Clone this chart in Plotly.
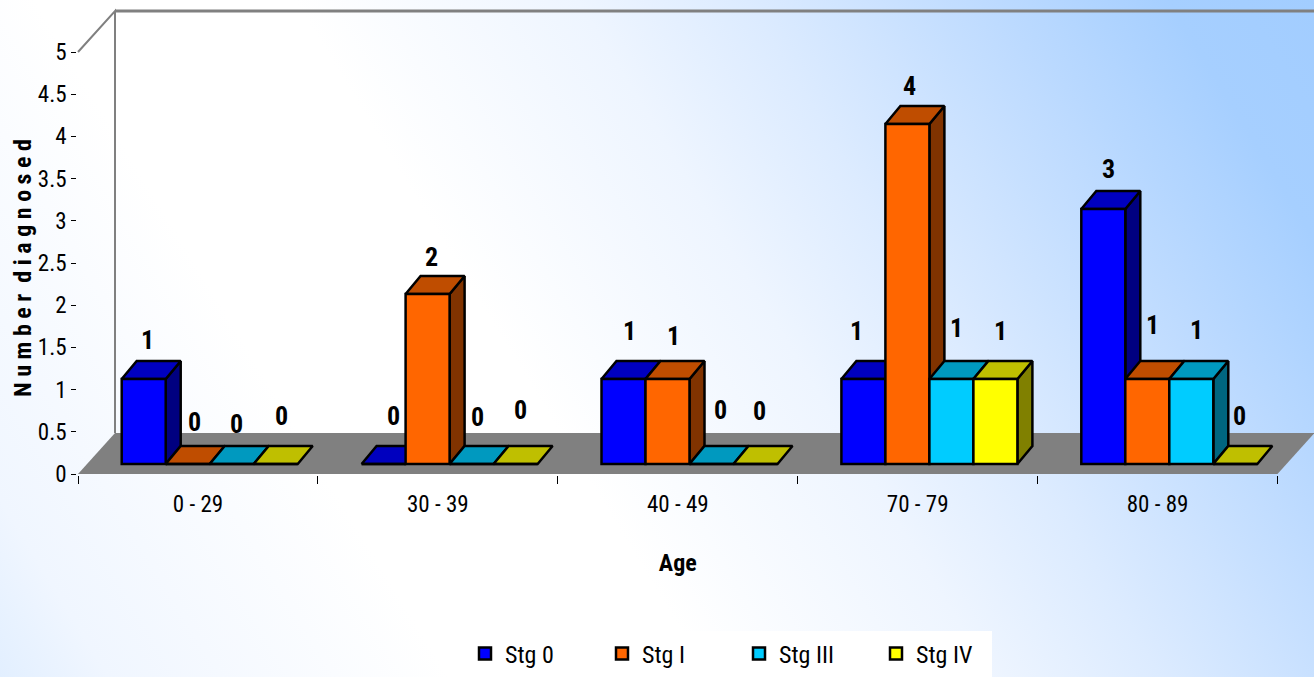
import base64
import plotly.graph_objects as go

# Diagnoses per age band, one list per stage
AGE_GROUPS = ["0 - 29", "30 - 39", "40 - 49", "70 - 79", "80 - 89"]
STG_0 = [1, 0, 1, 1, 3]
STG_I = [0, 2, 1, 4, 1]
STG_III = [0, 0, 0, 1, 1]
STG_IV = [0, 0, 0, 1, 0]
SERIES_NAMES = ["Stg 0", "Stg I", "Stg III", "Stg IV"]
SERIES_VALUES = [STG_0, STG_I, STG_III, STG_IV]

# (front, top, side) shades of each stage
SHADES = [
    ("#0000FF", "#0000BF", "#000080"),
    ("#FF6600", "#BF4D00", "#803300"),
    ("#00CCFF", "#0099BF", "#006680"),
    ("#FFFF00", "#BFBF00", "#808000"),
]

W, H = 1314, 677
FONT = "Roboto Condensed"
EDGE = 2.5

# Pixel frame of the axes
AX_LEFT, AX_RIGHT = 78, 1277.5
AX_TOP, AX_BOTTOM = 52, 474
# Wall and floor extrusion
WALL_DX, WALL_DY = 37, 41
# Bars stand a little behind the front edge of the floor
BAR_FLOOR_Y = 464
BAR_UNIT_PX = 85
CAT_PX = (AX_RIGHT - AX_LEFT) / 5

# Bar geometry in category units
BAR_W = 44 / CAT_PX
GROUP_START = 43.7 / CAT_PX - 0.5
DEPTH_X = 15 / CAT_PX
DEPTH_Y = 18 / BAR_UNIT_PX

# Hand placement of the value labels relative to each bar's top centre, in pixels
LABEL_DX = [
    [4, 10, 6, -7, 5],
    [7, 4, 6, 2, 5],
    [5, 6, 9, 5, 5],
    [6, 5, 4, 5, 4],
]
LABEL_DY = [
    [-39, -48, -48, -48, -40],
    [-42, -37, -43, -38, -54],
    [-40, -47, -54, -51, -49],
    [-48, -54, -53, -48, -48],
]


def px(x):
    return x / W


def py(y):
    return 1 - y / H


def bar_left(cat, s):
    return cat + GROUP_START + s * BAR_W


fig = go.Figure()

# Category axis carries the age labels and the boundary ticks
fig.add_trace(go.Scatter(x=AGE_GROUPS, y=[None] * 5, xaxis="x", yaxis="y",
                         showlegend=False, hoverinfo="skip"))

# Top and side faces, left to right so that later bars sit on earlier ones
for cat in range(len(AGE_GROUPS)):
    for s, values in enumerate(SERIES_VALUES):
        v = values[cat]
        x0 = bar_left(cat, s)
        x1 = x0 + BAR_W
        faces = [
            (SHADES[s][2], [x1, x1 + DEPTH_X, x1 + DEPTH_X, x1, x1],
             [0, DEPTH_Y, v + DEPTH_Y, v, 0]),
            (SHADES[s][1], [x0, x1, x1 + DEPTH_X, x0 + DEPTH_X, x0],
             [v, v, v + DEPTH_Y, v + DEPTH_Y, v]),
        ]
        for color, fx, fy in faces:
            if color == SHADES[s][2] and v == 0:
                continue
            fig.add_trace(go.Scatter(
                x=fx, y=fy, xaxis="x2", yaxis="y2", mode="lines",
                fill="toself", fillcolor=color,
                line=dict(color="black", width=EDGE),
                showlegend=False, hoverinfo="skip", zorder=0,
            ))

# Front faces are the real bars and feed the legend
for s, values in enumerate(SERIES_VALUES):
    fig.add_trace(go.Bar(
        x=[bar_left(c, s) + BAR_W / 2 for c in range(len(AGE_GROUPS))],
        y=values, width=BAR_W, name=SERIES_NAMES[s],
        xaxis="x2", yaxis="y2", zorder=1,
        marker=dict(color=SHADES[s][0], line=dict(color="black", width=EDGE)),
    ))

annotations = []
for s, values in enumerate(SERIES_VALUES):
    for cat, v in enumerate(values):
        annotations.append(dict(
            x=bar_left(cat, s) + BAR_W / 2, y=v, xref="x2", yref="y2",
            text=str(v), showarrow=False,
            xshift=LABEL_DX[s][cat], yshift=-LABEL_DY[s][cat],
            font=dict(family=FONT, size=26, color="black", weight=700),
        ))

# Value-axis caption, set beside the tick labels
annotations.append(dict(
    x=px(23), y=py(268), xref="paper", yref="paper", textangle=-90,
    xanchor="center", yanchor="middle",
    text="N u m b e r  d i a g n o s e d", showarrow=False,
    font=dict(family=FONT, size=24, color="black", weight=700),
))

# Floor, back wall edges and the white strip behind the legend
floor_path = "M{} {} L{} {} L{} {} L{} {} Z".format(
    px(AX_LEFT), py(AX_BOTTOM),
    px(AX_LEFT + WALL_DX), py(AX_BOTTOM - WALL_DY),
    px(AX_RIGHT + WALL_DX), py(AX_BOTTOM - WALL_DY),
    px(AX_RIGHT), py(AX_BOTTOM),
)
top_edge = "M{} {} L{} {}".format(
    px(AX_LEFT + WALL_DX), py(11),
    px(AX_RIGHT + WALL_DX), py(11),
)
corner_edges = "M{} {} L{} {} L{} {}".format(
    px(AX_LEFT), py(AX_TOP),
    px(AX_LEFT + WALL_DX), py(11),
    px(AX_LEFT + WALL_DX), py(AX_BOTTOM - WALL_DY),
)
shapes = [
    dict(type="path", path=floor_path, xref="paper", yref="paper", layer="below",
         fillcolor="#808080", line=dict(width=0)),
    dict(type="path", path=top_edge, xref="paper", yref="paper", layer="below",
         line=dict(color="#808080", width=3)),
    dict(type="path", path=corner_edges, xref="paper", yref="paper", layer="below",
         line=dict(color="#808080", width=2)),
    dict(type="rect", xref="paper", yref="paper", layer="below",
         x0=px(465), x1=px(992), y0=py(677), y1=py(631),
         fillcolor="white", line=dict(width=0)),
]

# Page background: a soft white-to-blue sweep
svg = (
    f'<svg xmlns="http://www.w3.org/2000/svg" width="{W}" height="{H}">'
    '<defs><linearGradient id="g" gradientUnits="userSpaceOnUse" '
    'x1="0" y1="677" x2="1257" y2="-93">'
    '<stop offset="0" stop-color="#E2EFFF"/>'
    '<stop offset="0.063" stop-color="#F0F6FF"/>'
    '<stop offset="0.26" stop-color="#FFFFFF"/>'
    '<stop offset="0.41" stop-color="#FFFFFF"/>'
    '<stop offset="0.574" stop-color="#EEF5FF"/>'
    '<stop offset="0.672" stop-color="#DCEBFF"/>'
    '<stop offset="0.808" stop-color="#BEDBFF"/>'
    '<stop offset="0.915" stop-color="#A6CFFF"/>'
    '<stop offset="1" stop-color="#A2CDFF"/>'
    f'</linearGradient></defs><rect width="{W}" height="{H}" fill="url(#g)"/></svg>'
)
background = "data:image/svg+xml;base64," + base64.b64encode(svg.encode()).decode()

x_domain = [px(AX_LEFT), px(AX_RIGHT)]
y_domain = [py(AX_BOTTOM), py(AX_TOP)]
bars_y_min = -(AX_BOTTOM - BAR_FLOOR_Y) / BAR_UNIT_PX
bars_y_max = bars_y_min + (AX_BOTTOM - AX_TOP) / BAR_UNIT_PX

fig.update_layout(
    width=W, height=H,
    autosize=False,
    margin=dict(l=0, r=0, t=0, b=0, autoexpand=False),
    paper_bgcolor="rgba(0,0,0,0)",
    plot_bgcolor="rgba(0,0,0,0)",
    barmode="overlay",
    font=dict(family=FONT, size=23, color="black"),
    images=[dict(source=background, xref="paper", yref="paper", x=0, y=1,
                 sizex=1, sizey=1, sizing="stretch", layer="below",
                 xanchor="left", yanchor="top")],
    shapes=shapes,
    annotations=annotations,
    xaxis=dict(
        domain=x_domain, type="category", categoryorder="array",
        categoryarray=AGE_GROUPS, range=[-0.5, 4.5], tickson="boundaries",
        ticks="outside", ticklen=8, tickwidth=1, tickcolor="black",
        ticklabelstandoff=9,
        showline=True, linecolor="black", linewidth=1.5, showgrid=False,
        zeroline=False, anchor="y", fixedrange=True,
        title=dict(text="Age", standoff=37,
                   font=dict(family=FONT, size=24, weight=700)),
    ),
    yaxis=dict(
        domain=y_domain, range=[0, 5], dtick=0.5, ticks="outside", ticklen=5,
        tickwidth=1, tickcolor="black", showline=True, linecolor="black",
        linewidth=1.5, showgrid=False, zeroline=False, anchor="x",
        fixedrange=True, tickfont=dict(size=23),
    ),
    xaxis2=dict(domain=x_domain, range=[-0.5, 4.5], overlaying="x", visible=False,
                anchor="y2", fixedrange=True),
    yaxis2=dict(domain=y_domain, range=[bars_y_min, bars_y_max], overlaying="y",
                visible=False, anchor="x2", fixedrange=True),
    showlegend=True,
    legend=dict(
        orientation="h", x=px(465), y=py(654), xanchor="left", yanchor="middle",
        entrywidth=92, entrywidthmode="pixels", bgcolor="rgba(0,0,0,0)",
        font=dict(family=FONT, size=24), traceorder="normal",
        itemclick=False, itemdoubleclick=False,
    ),
)

fig.write_html("out.html", config={"displayModeBar": False})
